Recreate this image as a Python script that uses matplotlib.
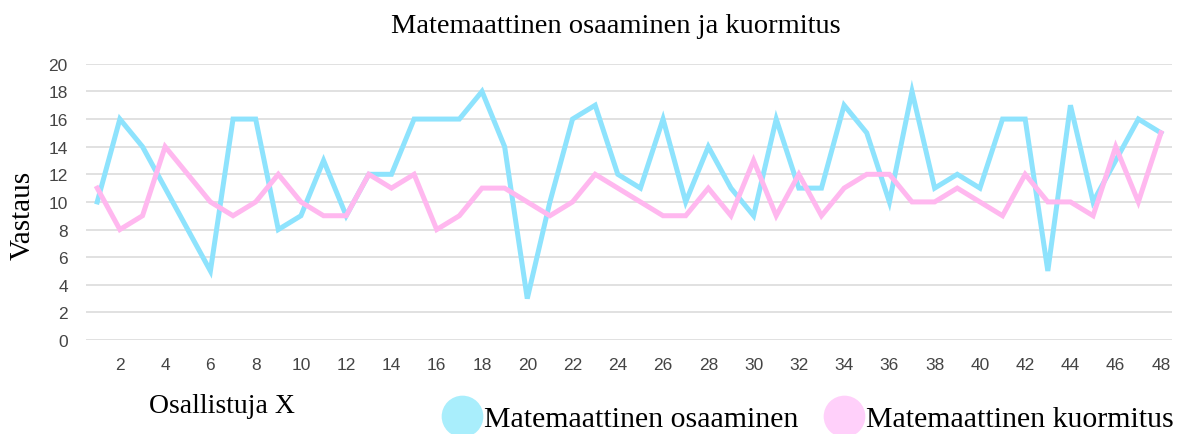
import matplotlib
matplotlib.use('Agg')
import matplotlib.pyplot as plt
from matplotlib.lines import Line2D

# ===== 数据 =====
osallistujat = list(range(1, 49))
osaaminen = [10, 16, 14, 11, 8, 5, 16, 16, 8, 9, 13, 9, 12, 12, 16, 16,
             16, 18, 14, 3, 10, 16, 17, 12, 11, 16, 10, 14, 11, 9, 16, 11,
             11, 17, 15, 10, 18, 11, 12, 11, 16, 16, 5, 17, 10, 13, 16, 15]
kuormitus = [11, 8, 9, 14, 12, 10, 9, 10, 12, 10, 9, 9, 12, 11, 12, 8,
             9, 11, 11, 10, 9, 10, 12, 11, 10, 9, 9, 11, 9, 13, 9, 12,
             9, 11, 12, 12, 10, 10, 11, 10, 9, 12, 10, 10, 9, 14, 10, 15]
y_ticks = list(range(0, 21, 2))
x_ticks = list(range(2, 49, 2))

BLUE = '#8ee3fd'
PINK = '#ffb8ef'
SERIF = 'Liberation Serif'
SANS = 'Liberation Sans'

fig = plt.figure(figsize=(11.77, 4.35), dpi=100)
ax = fig.add_axes([0.073, 0.216, 0.923, 0.635])

ax.plot(osallistujat, osaaminen, color=BLUE, lw=3.6, solid_joinstyle='miter', zorder=3)
ax.plot(osallistujat, kuormitus, color=PINK, lw=3.6, solid_joinstyle='miter', zorder=3)

ax.set_xlim(0.5, 48.5)
ax.set_ylim(0, 20)
ax.set_yticks(y_ticks)
ax.set_xticks(x_ticks)
ax.grid(axis='y', color='#d9d9d9', lw=1.1)
ax.set_axisbelow(True)
for s in ax.spines.values():
    s.set_visible(False)
ax.tick_params(length=0, labelsize=12.5, labelcolor='#444444')
ax.tick_params(axis='x', pad=12)
ax.tick_params(axis='y', pad=13)
for lab in ax.get_xticklabels() + ax.get_yticklabels():
    lab.set_fontfamily(SANS)

fig.text(0.523, 0.94, 'Matemaattinen osaaminen ja kuormitus', family=SERIF,
         fontsize=20.5, ha='center', va='center')
fig.text(0.019, 0.505, 'Vastaus', family=SERIF, fontsize=21, rotation=90,
         ha='center', va='center')
fig.text(0.127, 0.065, 'Osallistuja X', family=SERIF, fontsize=20,
         ha='left', va='center')

handles = [Line2D([], [], ls='none', marker='o', ms=30, mfc='#a9eefc', mec='none'),
           Line2D([], [], ls='none', marker='o', ms=30, mfc='#ffd0fa', mec='none')]
fig.legend(handles, ['Matemaattinen osaaminen', 'Matemaattinen kuormitus'],
           loc='center right', bbox_to_anchor=(1.02, 0.035), ncol=2, frameon=False,
           prop={'family': SERIF, 'size': 21.5}, handlelength=1.0, handletextpad=0.25,
           columnspacing=1.0)

fig.savefig('out.png', dpi=100, facecolor='white')
